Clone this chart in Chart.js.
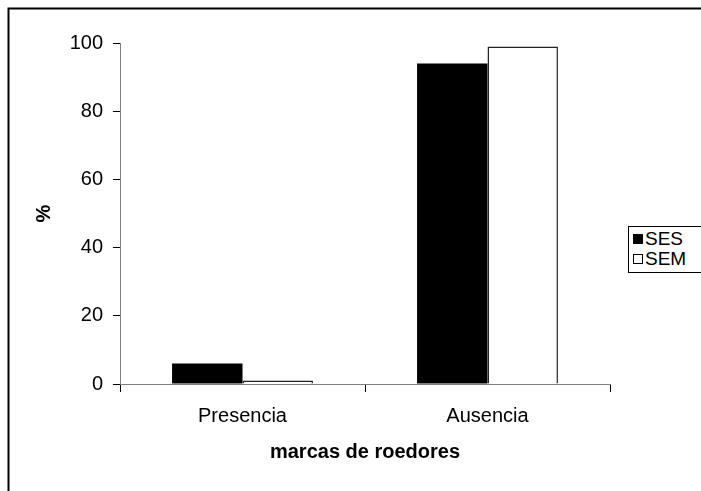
<!DOCTYPE html>
<html>
<head>
<meta charset="utf-8">
<script src="https://cdn.jsdelivr.net/npm/chart.js@4/dist/chart.umd.min.js"></script>
<style>
  html, body { margin: 0; padding: 0; background: #fff; }
  #wrap { position: relative; width: 701px; height: 491px; overflow: hidden; }
  #legend {
    position: absolute; left: 628px; top: 226px; width: 90px;
    border: 1px solid #000; background: #fff;
    font-family: 'Liberation Sans', Arial, sans-serif; font-size: 19px; color: #000;
    padding: 2px 0 3px 4px;
  }
  .row { display: flex; align-items: center; height: 20px; }
  .box { width: 10px; height: 10px; border: 1px solid #000; margin-right: 2px; box-sizing: border-box; }
</style>
</head>
<body>
<div id="wrap">
  <canvas id="chart" width="701" height="491"></canvas>
  <div id="legend"></div>
</div>
<script>
const categories = ['Presencia', 'Ausencia'];
const seriesNames = ['SES', 'SEM'];
const sesValues = [6, 94];
const semValues = [1, 99];
const yTicks = [0, 20, 40, 60, 80, 100];

const FONT = "'Liberation Sans', Arial, sans-serif";

// marco exterior (cortado a la derecha y abajo)
const framePlugin = {
    id: 'frame',
    beforeDraw(chart) {
        const ctx = chart.ctx;
        ctx.save();
        ctx.fillStyle = '#fff';
        ctx.fillRect(0, 0, chart.width, chart.height);
        ctx.strokeStyle = '#000';
        ctx.lineWidth = 2;
        ctx.strokeRect(8.5, 8.5, 1000, 1000);
        ctx.restore();
    }
};

const chart = new Chart(document.getElementById('chart'), {
    type: 'bar',
    data: {
        labels: categories,
        datasets: [
            {
                label: seriesNames[0],
                data: sesValues,
                backgroundColor: '#000',
                borderColor: '#000',
                borderWidth: 0,
                categoryPercentage: 0.575,
                barPercentage: 1.0
            },
            {
                label: seriesNames[1],
                data: semValues,
                backgroundColor: '#fff',
                borderColor: '#222',
                borderWidth: 1.5,
                categoryPercentage: 0.575,
                barPercentage: 1.0
            }
        ]
    },
    options: {
        responsive: false,
        animation: false,
        layout: { padding: { left: 0, top: 43, right: 91, bottom: 0 } },
        plugins: {
            legend: { display: false },
            tooltip: { enabled: false }
        },
        scales: {
            x: {
                grid: { drawOnChartArea: false, color: '#000', tickLength: 8, offset: true },
                border: { color: '#808080', width: 1 },
                ticks: { color: '#000', font: { family: FONT, size: 20 }, padding: 12 },
                title: {
                    display: true,
                    text: 'marcas de roedores',
                    color: '#000',
                    font: { family: FONT, size: 20, weight: 'bold' },
                    padding: { top: 0, bottom: 27 }
                },
                afterFit: s => { s.height = 107; }
            },
            y: {
                min: 0,
                max: 100,
                afterBuildTicks: s => { s.ticks = yTicks.map(v => ({ value: v })); },
                grid: { drawOnChartArea: false, color: '#000', tickLength: 7 },
                border: { color: '#808080', width: 1 },
                ticks: { color: '#000', font: { family: FONT, size: 20 }, padding: 10 },
                title: {
                    display: true,
                    text: '%',
                    color: '#000',
                    font: { family: FONT, size: 20, weight: 'bold' },
                    padding: { top: 32, bottom: 0 }
                },
                afterFit: s => { s.width = 120; }
            }
        }
    },
    plugins: [framePlugin]
});

// leyenda con recuadro a la derecha
const legendEl = document.getElementById('legend');
chart.data.datasets.forEach(ds => {
    const row = document.createElement('div');
    row.className = 'row';
    const box = document.createElement('span');
    box.className = 'box';
    box.style.background = ds.backgroundColor;
    const txt = document.createElement('span');
    txt.textContent = ds.label;
    row.appendChild(box);
    row.appendChild(txt);
    legendEl.appendChild(row);
});
</script>
</body>
</html>
